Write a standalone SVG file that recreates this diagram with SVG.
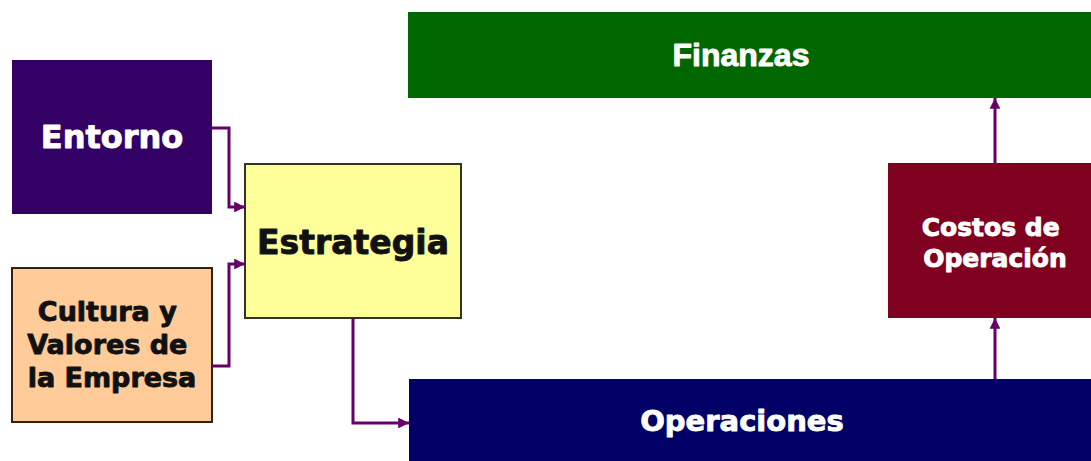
<svg xmlns="http://www.w3.org/2000/svg" width="1091" height="461" viewBox="0 0 1091 461">
  <style>
    .lbl { font-family: "DejaVu Sans", Verdana, sans-serif; font-weight: bold; text-anchor: middle; stroke-width: 0.9; stroke-linejoin: round; }
    .light { fill: #ffffff; stroke: #ffffff; }
    .dark { fill: #111111; stroke: #111111; }
    .link { fill: none; stroke: #660066; stroke-width: 3; }
  </style>
  <defs>
    <marker id="arrow" viewBox="0 0 10 10" refX="10" refY="5" markerWidth="4" markerHeight="3.6" orient="auto" markerUnits="strokeWidth">
      <path d="M0,0 L10,5 L0,10 z" fill="#660066"/>
    </marker>
  </defs>
  <rect width="1091" height="461" fill="#ffffff"/>

  <g id="finanzas">
    <rect x="408" y="12" width="690" height="86" fill="#006600"/>
    <text class="lbl light" x="741" y="66" style="font-family:'Liberation Sans',Arial,sans-serif" font-size="32">Finanzas</text>
  </g>

  <g id="entorno">
    <rect x="12" y="60" width="200" height="154" fill="#330066"/>
    <text class="lbl light" x="112" y="148" font-size="32">Entorno</text>
  </g>

  <g id="estrategia">
    <rect x="245" y="164" width="216" height="154" fill="#ffff99" stroke="#333322" stroke-width="2"/>
    <text class="lbl dark" x="353" y="254" font-size="33">Estrategia</text>
  </g>

  <g id="cultura">
    <rect x="12" y="268" width="200" height="154" fill="#ffcc99" stroke="#332211" stroke-width="2"/>
    <text class="lbl dark" font-size="27">
      <tspan x="112" y="321">Cultura y</tspan>
      <tspan x="112" y="354">Valores de</tspan>
      <tspan x="112" y="387">la Empresa</tspan>
    </text>
  </g>

  <g id="costos">
    <rect x="888" y="163" width="210" height="155" fill="#800020"/>
    <text class="lbl light" font-size="25">
      <tspan x="995" y="236">Costos de</tspan>
      <tspan x="995" y="267">Operación</tspan>
    </text>
  </g>

  <g id="operaciones">
    <rect x="409" y="379" width="690" height="90" fill="#000066"/>
    <text class="lbl light" x="742" y="431" font-size="29">Operaciones</text>
  </g>

  <g id="connectors">
    <path class="link" d="M212,128 H229 V207 H245" marker-end="url(#arrow)"/>
    <path class="link" d="M212,366 H229 V264 H245" marker-end="url(#arrow)"/>
    <path class="link" d="M353,318 V423 H409" marker-end="url(#arrow)"/>
    <path class="link" d="M995,379 V318" marker-end="url(#arrow)"/>
    <path class="link" d="M995,163 V98" marker-end="url(#arrow)"/>
  </g>
</svg>
